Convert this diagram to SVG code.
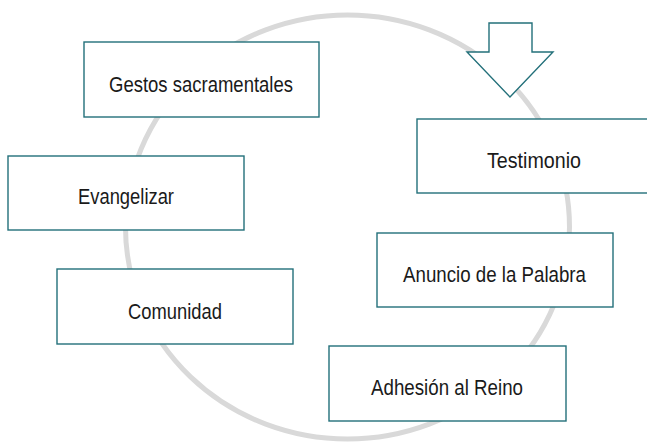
<svg xmlns="http://www.w3.org/2000/svg" width="647" height="442" viewBox="0 0 647 442">
  <style>
    .box { fill: #ffffff; stroke: #23707a; stroke-width: 1.4; }
    .lbl { font-family: "Liberation Sans Narrow", "Liberation Sans", Arial, sans-serif; font-size: 22.5px; fill: #1a1a1a; text-anchor: middle; }
    .cycle { fill: none; stroke: #d9d9d9; stroke-width: 5; }
    .arrow { fill: #ffffff; stroke: #23707a; stroke-width: 1.4; stroke-linejoin: miter; }
  </style>
  <rect x="0" y="0" width="647" height="442" fill="#ffffff"/>
  <g id="connectors">
    <ellipse class="cycle" cx="347.5" cy="227" rx="222" ry="212"/>
    <polygon class="arrow" points="489,23 532,23 532,52 553,52 510,97 467,52 489,52"/>
  </g>
  <g id="gestos">
    <rect class="box" x="84" y="42" width="235" height="75"/>
    <text class="lbl" x="201" y="92" textLength="184" lengthAdjust="spacingAndGlyphs">Gestos sacramentales</text>
  </g>
  <g id="testimonio">
    <rect class="box" x="417" y="119" width="240" height="74"/>
    <text class="lbl" x="534" y="168" textLength="94" lengthAdjust="spacingAndGlyphs">Testimonio</text>
  </g>
  <g id="evangelizar">
    <rect class="box" x="8" y="156" width="236" height="74"/>
    <text class="lbl" x="126" y="204" textLength="96" lengthAdjust="spacingAndGlyphs">Evangelizar</text>
  </g>
  <g id="anuncio">
    <rect class="box" x="377" y="233" width="236" height="74"/>
    <text class="lbl" x="494.5" y="282" textLength="183" lengthAdjust="spacingAndGlyphs">Anuncio de la Palabra</text>
  </g>
  <g id="comunidad">
    <rect class="box" x="57" y="269" width="236" height="75"/>
    <text class="lbl" x="175" y="319" textLength="94" lengthAdjust="spacingAndGlyphs">Comunidad</text>
  </g>
  <g id="adhesion">
    <rect class="box" x="329" y="346" width="237" height="75"/>
    <text class="lbl" x="447" y="395" textLength="152" lengthAdjust="spacingAndGlyphs">Adhesión al Reino</text>
  </g>
</svg>
